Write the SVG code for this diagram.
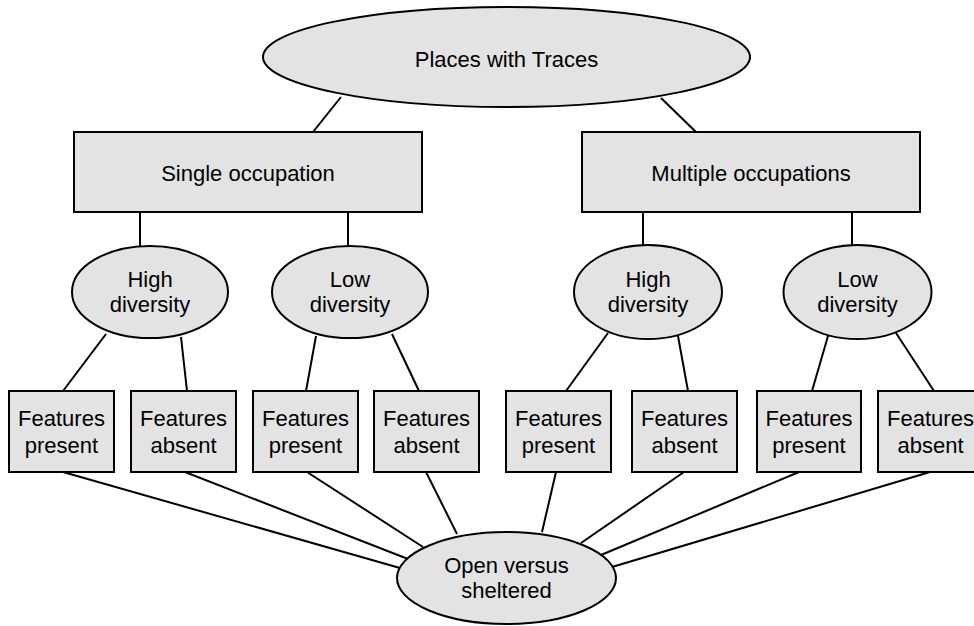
<svg xmlns="http://www.w3.org/2000/svg" width="974" height="626" viewBox="0 0 974 626">
<style>
.n{fill:#e3e3e3;stroke:#000;stroke-width:2}
.c line{stroke:#000;stroke-width:2}
text{font-family:"Liberation Sans",Arial,sans-serif;font-size:22px;fill:#000;text-anchor:middle}
</style>
<rect width="974" height="626" fill="#fff"/>
<g class="c" id="connectors">
<line x1="341" y1="97" x2="313" y2="132"/>
<line x1="661" y1="98" x2="696" y2="132"/>
<line x1="140" y1="212" x2="140" y2="247"/>
<line x1="348" y1="212" x2="348" y2="247"/>
<line x1="643" y1="212" x2="643" y2="246"/>
<line x1="852" y1="212" x2="852" y2="246"/>
<line x1="106" y1="334" x2="63" y2="391"/>
<line x1="181" y1="337" x2="187" y2="391"/>
<line x1="316" y1="336" x2="306" y2="391"/>
<line x1="392" y1="334" x2="419" y2="391"/>
<line x1="608" y1="333" x2="566" y2="391"/>
<line x1="678" y1="336" x2="688" y2="391"/>
<line x1="828" y1="336" x2="812" y2="391"/>
<line x1="896" y1="333" x2="934" y2="391"/>
<line x1="63" y1="472" x2="400" y2="568"/>
<line x1="185" y1="472" x2="408" y2="559"/>
<line x1="307" y1="472" x2="423" y2="547"/>
<line x1="426" y1="472" x2="457" y2="534"/>
<line x1="556" y1="472" x2="542" y2="532"/>
<line x1="684" y1="472" x2="581" y2="543"/>
<line x1="799" y1="472" x2="601" y2="555"/>
<line x1="930" y1="472" x2="612" y2="567"/>
</g>
<g id="places"><ellipse class="n" cx="506.5" cy="57" rx="243.5" ry="50"/><text x="506.5" y="67">Places with Traces</text></g>
<g id="single"><rect class="n" x="74" y="132" width="348" height="80"/><text x="248" y="181">Single occupation</text></g>
<g id="multiple"><rect class="n" x="582" y="132" width="338" height="80"/><text x="751" y="181">Multiple occupations</text></g>
<g id="high1"><ellipse class="n" cx="150" cy="292" rx="78" ry="46"/><text x="150" y="287">High</text><text x="150" y="312">diversity</text></g>
<g id="low1"><ellipse class="n" cx="350" cy="292" rx="78" ry="46"/><text x="350" y="287">Low</text><text x="350" y="312">diversity</text></g>
<g id="high2"><ellipse class="n" cx="648" cy="292" rx="74" ry="47"/><text x="648" y="287">High</text><text x="648" y="312">diversity</text></g>
<g id="low2"><ellipse class="n" cx="857.5" cy="292" rx="74" ry="47"/><text x="857.5" y="287">Low</text><text x="857.5" y="312">diversity</text></g>
<g id="fp1"><rect class="n" x="9" y="391" width="105" height="81"/><text x="61.5" y="426">Features</text><text x="61.5" y="453">present</text></g>
<g id="fa1"><rect class="n" x="131" y="391" width="105" height="81"/><text x="183.5" y="426">Features</text><text x="183.5" y="453">absent</text></g>
<g id="fp2"><rect class="n" x="253" y="391" width="105" height="81"/><text x="305.5" y="426">Features</text><text x="305.5" y="453">present</text></g>
<g id="fa2"><rect class="n" x="374" y="391" width="105" height="81"/><text x="426.5" y="426">Features</text><text x="426.5" y="453">absent</text></g>
<g id="fp3"><rect class="n" x="506" y="391" width="105" height="81"/><text x="558.5" y="426">Features</text><text x="558.5" y="453">present</text></g>
<g id="fa3"><rect class="n" x="632" y="391" width="105" height="81"/><text x="684.5" y="426">Features</text><text x="684.5" y="453">absent</text></g>
<g id="fp4"><rect class="n" x="757" y="391" width="104" height="81"/><text x="809" y="426">Features</text><text x="809" y="453">present</text></g>
<g id="fa4"><rect class="n" x="878" y="391" width="105" height="81"/><text x="930.5" y="426">Features</text><text x="930.5" y="453">absent</text></g>
<g id="open"><ellipse class="n" cx="506.5" cy="578" rx="109.5" ry="46"/><text x="506.5" y="573">Open versus</text><text x="506.5" y="598">sheltered</text></g>
</svg>
